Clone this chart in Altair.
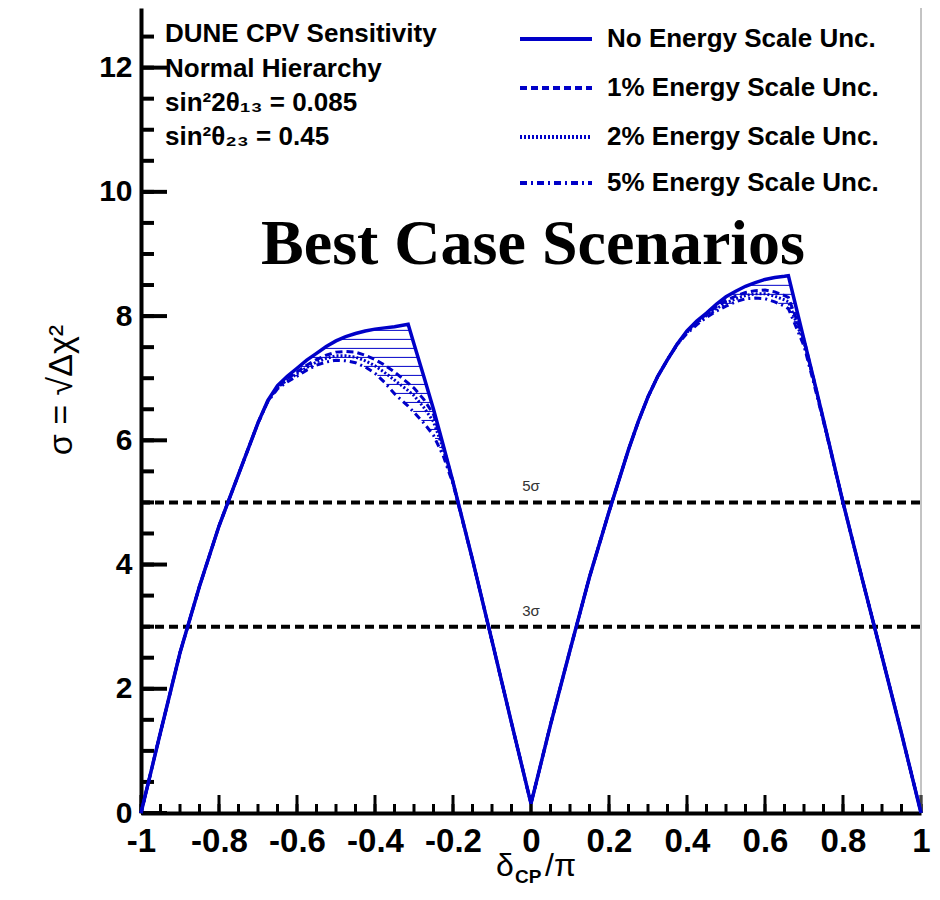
import altair as alt
import pandas as pd
import numpy as np

# ---------------- data ----------------
delta_cp = [-1.0, -0.95, -0.9, -0.85, -0.8, -0.75, -0.7, -0.675, -0.65, -0.625,
            -0.6, -0.575, -0.55, -0.525, -0.5, -0.475, -0.45, -0.425, -0.4, -0.375,
            -0.35, -0.315, -0.3, -0.275, -0.25, -0.225, -0.2, -0.15, -0.1, -0.05,
            0.0, 0.05, 0.1, 0.15, 0.2, 0.25, 0.275, 0.3, 0.325, 0.35,
            0.375, 0.4, 0.425, 0.45, 0.475, 0.5, 0.525, 0.55, 0.575, 0.6,
            0.625, 0.65, 0.66, 0.7, 0.725, 0.75, 0.8, 0.85, 0.9, 0.95, 1.0]

sens_none = [0.0, 1.3, 2.58, 3.65, 4.62, 5.45, 6.28, 6.64, 6.88, 7.03,
             7.16, 7.29, 7.40, 7.51, 7.60, 7.67, 7.72, 7.76, 7.79, 7.81,
             7.83, 7.87, 7.55, 7.03, 6.5, 5.92, 5.33, 4.08, 2.77, 1.45,
             0.15, 1.42, 2.62, 3.8, 4.85, 5.85, 6.3, 6.7, 7.03, 7.3,
             7.55, 7.76, 7.92, 8.05, 8.19, 8.31, 8.40, 8.48, 8.54, 8.59,
             8.62, 8.64, 8.65, 7.62, 6.98, 6.33, 5.0, 3.75, 2.52, 1.28, 0.0]

sens_1pct = [0.0, 1.3, 2.58, 3.65, 4.62, 5.45, 6.28, 6.63, 6.86, 6.99,
             7.10, 7.21, 7.30, 7.37, 7.42, 7.43, 7.42, 7.37, 7.30, 7.21,
             7.10, 6.92, 6.84, 6.66, 6.42, 5.90, 5.33, 4.08, 2.77, 1.45,
             0.15, 1.42, 2.62, 3.8, 4.85, 5.85, 6.3, 6.7, 7.03, 7.3,
             7.55, 7.75, 7.91, 8.03, 8.15, 8.25, 8.32, 8.38, 8.41, 8.42,
             8.39, 8.33, 8.30, 7.62, 6.98, 6.33, 5.0, 3.75, 2.52, 1.28, 0.0]

sens_2pct = [0.0, 1.3, 2.58, 3.65, 4.62, 5.45, 6.28, 6.63, 6.85, 6.97,
             7.07, 7.17, 7.26, 7.32, 7.36, 7.36, 7.34, 7.28, 7.20, 7.09,
             6.97, 6.80, 6.72, 6.53, 6.30, 5.86, 5.32, 4.08, 2.77, 1.45,
             0.15, 1.42, 2.62, 3.8, 4.85, 5.85, 6.3, 6.7, 7.03, 7.3,
             7.55, 7.74, 7.89, 8.01, 8.12, 8.21, 8.28, 8.33, 8.36, 8.36,
             8.32, 8.26, 8.23, 7.58, 6.96, 6.32, 5.0, 3.75, 2.52, 1.28, 0.0]

sens_5pct = [0.0, 1.3, 2.58, 3.65, 4.62, 5.45, 6.28, 6.62, 6.83, 6.94,
             7.03, 7.13, 7.21, 7.26, 7.29, 7.28, 7.25, 7.18, 7.08, 6.93,
             6.75, 6.55, 6.45, 6.28, 6.08, 5.75, 5.30, 4.08, 2.77, 1.45,
             0.15, 1.42, 2.62, 3.8, 4.85, 5.85, 6.3, 6.7, 7.03, 7.3,
             7.54, 7.72, 7.86, 7.98, 8.08, 8.16, 8.23, 8.28, 8.29, 8.28,
             8.23, 8.16, 8.12, 7.52, 6.92, 6.30, 5.0, 3.75, 2.52, 1.28, 0.0]

series_names = ["No Energy Scale Unc.", "1% Energy Scale Unc.",
                "2% Energy Scale Unc.", "5% Energy Scale Unc."]

sigma_levels = [3, 5]
sigma_labels = ["3σ", "5σ"]

info_lines = ["DUNE CPV Sensitivity", "Normal Hierarchy",
              "sin²2θ₁₃ = 0.085", "sin²θ₂₃ = 0.45"]
scenario_title = "Best Case Scenarios"

x_major_ticks = [-1, -0.8, -0.6, -0.4, -0.2, 0, 0.2, 0.4, 0.6, 0.8, 1]
y_major_ticks = [0, 2, 4, 6, 8, 10, 12]

# ---------------- styling / layout ----------------
BLUE = "#0000c8"
W, H = 780, 805
YMAX = 12.96
FONT = "Liberation Sans"

xscale = alt.Scale(domain=[-1, 1], nice=False, zero=False)
yscale = alt.Scale(domain=[0, YMAX], nice=False, zero=False)

x_axis = alt.Axis(values=x_major_ticks, ticks=False, grid=False,
                  domain=True, domainColor="black", domainWidth=4,
                  labelFont=FONT, labelFontWeight="bold",
                  labelFontSize=33, labelColor="black",
                  labelPadding=12, labelFlush=False, labelOverlap=False,
                  labelExpr="datum.value == 0 ? '0' : (datum.value < 0 ? '-' : '') + format(abs(datum.value), '~g')",
                  title=None)
y_axis = alt.Axis(values=y_major_ticks, ticks=False, grid=False,
                  domain=True, domainColor="black", domainWidth=4,
                  labelFont=FONT, labelFontWeight="bold",
                  labelFontSize=30, labelColor="black",
                  labelPadding=9, title=None)

def X(field):
    return alt.X(field, scale=xscale, axis=x_axis)

def Y(field):
    return alt.Y(field, scale=yscale, axis=y_axis)

x_minor_ticks = [round(float(v), 3) for v in np.arange(-1, 1.0001, 0.05)]
y_minor_ticks = [round(float(v), 3) for v in np.arange(0, YMAX, 0.5)]

dashes = [None, [7, 4], [2, 2], [7, 4, 2, 4]]
widths = [3.5, 3, 3, 3]
all_series = [sens_none, sens_1pct, sens_2pct, sens_5pct]

layers = []

# main curve (drawn last but defined first)
main_df = pd.DataFrame({"x": delta_cp, "y": sens_none})
main = alt.Chart(main_df).mark_line(color=BLUE, strokeWidth=3.5).encode(
    x=X("x:Q"), y=Y("y:Q"))

# inward tick marks
def xt(vals, ln, sw):
    df = pd.DataFrame({"x": vals})
    return alt.Chart(df).mark_rule(color="black", strokeWidth=sw).encode(
        x=X("x:Q"), y=alt.value(H), y2=alt.value(H - ln))

def yt(vals, ln, sw):
    df = pd.DataFrame({"y": vals})
    return alt.Chart(df).mark_rule(color="black", strokeWidth=sw).encode(
        y=Y("y:Q"), x=alt.value(0), x2=alt.value(ln))

layers += [xt(x_minor_ticks, 9, 3), xt(x_major_ticks, 18, 3),
           yt(y_minor_ticks, 13, 4), yt(y_major_ticks, 26, 4)]

# right frame
layers.append(alt.Chart(pd.DataFrame({"a": [0]})).mark_rule(color="#888888", strokeWidth=1).encode(
    x=alt.value(W), y=alt.value(0), y2=alt.value(H)))

# sigma lines
sig_df = pd.DataFrame({"y": sigma_levels, "label": sigma_labels})
layers.append(alt.Chart(sig_df).mark_rule(color="black", strokeWidth=4, strokeDash=[9, 5]).encode(
    y=Y("y:Q"), x=alt.value(0), x2=alt.value(W)))
layers.append(alt.Chart(sig_df).mark_text(font=FONT, fontSize=15, color="#333333", dy=-16).encode(
    y=Y("y:Q"), x=alt.value(W / 2), text="label:N"))

# hatch between the no-unc curve and the 5% curve
xs = np.linspace(-1, 1, 8001)
m = np.interp(xs, delta_cp, sens_none)
lo = np.interp(xs, delta_cp, sens_5pct)
segs = []
for h in np.arange(5.45, 8.8, 0.145):
    mask = ((lo < h) & (m > h)).astype(int)
    d = np.diff(np.concatenate([[0], mask, [0]]))
    starts = np.where(d == 1)[0]
    ends = np.where(d == -1)[0] - 1
    for s, e in zip(starts, ends):
        if xs[e] - xs[s] > 0.003:
            segs.append({"x": float(xs[s]), "x2": float(xs[e]), "y": float(h)})
hatch_df = pd.DataFrame(segs)
layers.append(alt.Chart(hatch_df).mark_rule(color=BLUE, strokeWidth=1).encode(
    x=X("x:Q"), x2="x2:Q", y=Y("y:Q")))

# lower curves
for i in [3, 2, 1]:
    df = pd.DataFrame({"x": delta_cp, "y": all_series[i]})
    layers.append(alt.Chart(df).mark_line(color=BLUE, strokeWidth=widths[i],
                                          strokeDash=dashes[i]).encode(
        x=X("x:Q"), y=Y("y:Q")))

layers.append(main)

# legend drawn by hand
leg_y = [31, 80, 129, 175]
for i, name in enumerate(series_names):
    kw = dict(color=BLUE, strokeWidth=4)
    if dashes[i] is not None:
        kw["strokeDash"] = dashes[i]
    layers.append(alt.Chart(pd.DataFrame({"a": [0]})).mark_rule(**kw).encode(
        x=alt.value(379), x2=alt.value(451), y=alt.value(leg_y[i])))
    layers.append(alt.Chart(pd.DataFrame({"t": [name]})).mark_text(
        font=FONT, fontWeight="bold", fontSize=26, align="left", baseline="middle",
        color="black").encode(x=alt.value(466), y=alt.value(leg_y[i]), text="t:N"))

# info text block
info_y = [34, 69, 103, 137]
for t, yy in zip(info_lines, info_y):
    layers.append(alt.Chart(pd.DataFrame({"t": [t]})).mark_text(
        font=FONT, fontWeight="bold", fontSize=26, align="left", baseline="alphabetic",
        color="black").encode(x=alt.value(24), y=alt.value(yy), text="t:N"))

# big scenario title
layers.append(alt.Chart(pd.DataFrame({"t": [scenario_title]})).mark_text(
    font="Liberation Serif", fontWeight="bold", fontSize=64, align="center",
    baseline="alphabetic", color="black").encode(x=alt.value(392), y=alt.value(256), text="t:N"))

# y axis title
layers.append(alt.Chart(pd.DataFrame({"t": ["σ = √Δχ²"]})).mark_text(
    font=FONT, fontSize=34, angle=270, align="center", baseline="middle",
    color="black").encode(x=alt.value(-79), y=alt.value(382), text="t:N"))

# x axis title  δ_CP / π
layers.append(alt.Chart(pd.DataFrame({"t": ["δ"]})).mark_text(
    font=FONT, fontSize=32, align="left", baseline="alphabetic", color="black").encode(
    x=alt.value(355), y=alt.value(868), text="t:N"))
layers.append(alt.Chart(pd.DataFrame({"t": ["CP"]})).mark_text(
    font=FONT, fontSize=19, fontWeight="bold", align="left", baseline="alphabetic",
    color="black").encode(x=alt.value(374), y=alt.value(875), text="t:N"))
layers.append(alt.Chart(pd.DataFrame({"t": ["/π"]})).mark_text(
    font=FONT, fontSize=32, align="left", baseline="alphabetic", color="black").encode(
    x=alt.value(404), y=alt.value(868), text="t:N"))

chart = alt.layer(*layers).properties(
    width=W, height=H,
    autosize=alt.AutoSizeParams(type="none"),
    padding={"left": 133, "top": 0, "right": 10, "bottom": 73},
    background="white",
).configure_view(stroke="transparent")

chart.save("out.html", embed_options={"renderer": "svg", "actions": False})
